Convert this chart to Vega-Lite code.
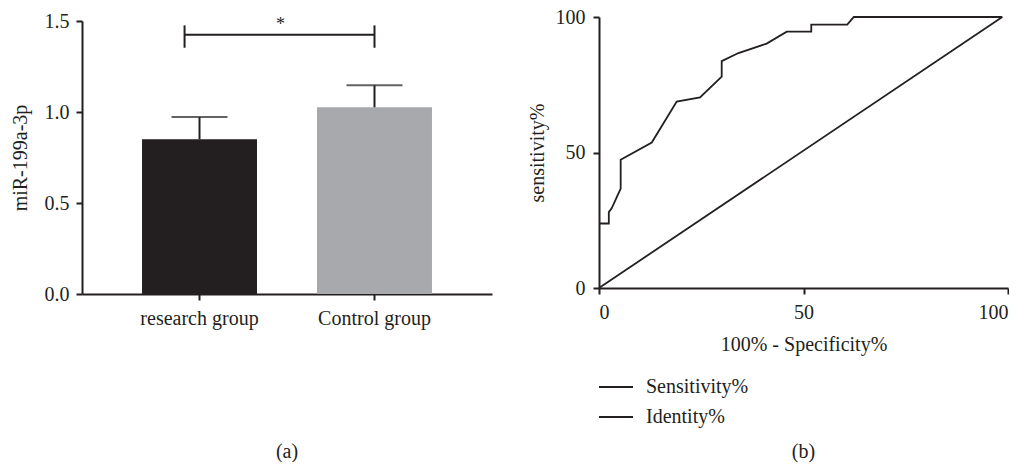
{
  "$schema": "https://vega.github.io/schema/vega-lite/v6.json",
  "background": "white",
  "padding": {"left": 10, "top": 7, "right": 0, "bottom": 0},
  "spacing": 35,
  "resolve": {"scale": {"color": "independent"}, "legend": {"color": "independent"}},
  "config": {
    "font": "Liberation Serif",
    "view": {"stroke": null},
    "axis": {
      "domainColor": "#231f20", "domainWidth": 2, "tickColor": "#231f20", "tickWidth": 2, "tickSize": 6,
      "labelFont": "Liberation Serif", "labelFontSize": 20, "labelColor": "#231f20",
      "titleFont": "Liberation Serif", "titleFontSize": 20, "titleColor": "#231f20", "titleFontWeight": "normal",
      "grid": false
    },
    "legend": {"labelFont": "Liberation Serif", "labelFontSize": 20, "labelColor": "#231f20"},
    "title": {"font": "Liberation Serif", "fontSize": 20, "fontWeight": "normal", "color": "#231f20"}
  },
  "datasets": {
    "bars": [
      {"group": "research group", "mean": 0.85, "upper": 0.972},
      {"group": "Control group", "mean": 1.026, "upper": 1.147}
    ],
    "sig": [
      {"from": "research group", "to": "Control group", "y": 1.425, "lo": 1.353, "hi": 1.476, "star_y": 1.45, "label": "*"}
    ],
    "roc": [
      {"i": 0, "x": 0, "y": 23.8, "series": "Sensitivity%"},
      {"i": 1, "x": 2.4, "y": 23.8, "series": "Sensitivity%"},
      {"i": 2, "x": 2.4, "y": 28.0, "series": "Sensitivity%"},
      {"i": 3, "x": 3.1, "y": 29.4, "series": "Sensitivity%"},
      {"i": 4, "x": 5.3, "y": 36.7, "series": "Sensitivity%"},
      {"i": 5, "x": 5.3, "y": 47.3, "series": "Sensitivity%"},
      {"i": 6, "x": 12.9, "y": 53.7, "series": "Sensitivity%"},
      {"i": 7, "x": 19.0, "y": 68.8, "series": "Sensitivity%"},
      {"i": 8, "x": 24.7, "y": 70.3, "series": "Sensitivity%"},
      {"i": 9, "x": 30.0, "y": 78.0, "series": "Sensitivity%"},
      {"i": 10, "x": 30.0, "y": 83.7, "series": "Sensitivity%"},
      {"i": 11, "x": 34.1, "y": 86.7, "series": "Sensitivity%"},
      {"i": 12, "x": 41.0, "y": 90.2, "series": "Sensitivity%"},
      {"i": 13, "x": 45.9, "y": 94.6, "series": "Sensitivity%"},
      {"i": 14, "x": 51.9, "y": 94.6, "series": "Sensitivity%"},
      {"i": 15, "x": 51.9, "y": 97.2, "series": "Sensitivity%"},
      {"i": 16, "x": 60.7, "y": 97.2, "series": "Sensitivity%"},
      {"i": 17, "x": 62.3, "y": 100, "series": "Sensitivity%"},
      {"i": 18, "x": 98.6, "y": 100, "series": "Sensitivity%"},
      {"i": 0, "x": 0, "y": 0, "series": "Identity%"},
      {"i": 1, "x": 98.6, "y": 100, "series": "Identity%"}
    ]
  },
  "hconcat": [
    {
      "width": 410,
      "height": 277,
      "title": {"text": "(a)", "orient": "bottom", "offset": 114},
      "layer": [
        {
          "data": {"name": "bars"},
          "mark": {"type": "bar"},
          "encoding": {
            "x": {"field": "group", "type": "nominal",
                  "scale": {"domain": ["research group", "Control group"], "padding": 0.343},
                  "axis": {"title": null, "labelAngle": 0, "labelPadding": 8}},
            "y": {"field": "mean", "type": "quantitative",
                  "scale": {"domain": [0, 1.5], "range": [277, 4], "nice": false},
                  "axis": {"title": "miR-199a-3p", "values": [0, 0.5, 1.0, 1.5], "format": ".1f", "labelPadding": 7, "titlePadding": 14}},
            "color": {"field": "group", "type": "nominal",
                      "scale": {"domain": ["research group", "Control group"], "range": ["#231f20", "#a7a9ac"]},
                      "legend": null}
          }
        },
        {
          "data": {"name": "bars"},
          "mark": {"type": "rule", "color": "#231f20", "strokeWidth": 2},
          "encoding": {
            "x": {"field": "group", "type": "nominal"},
            "y": {"field": "mean", "type": "quantitative"},
            "y2": {"field": "upper"}
          }
        },
        {
          "data": {"name": "bars"},
          "mark": {"type": "tick", "orient": "horizontal", "color": "#231f20", "size": 56, "thickness": 2},
          "encoding": {
            "x": {"field": "group", "type": "nominal"},
            "y": {"field": "upper", "type": "quantitative"}
          }
        },
        {
          "data": {"name": "sig"},
          "mark": {"type": "rule", "color": "#231f20", "strokeWidth": 2},
          "encoding": {
            "x": {"field": "from", "type": "nominal", "bandPosition": 0.37},
            "x2": {"field": "to"},
            "y": {"field": "y", "type": "quantitative"}
          }
        },
        {
          "data": {"name": "sig"},
          "mark": {"type": "rule", "color": "#231f20", "strokeWidth": 2},
          "encoding": {
            "x": {"field": "from", "type": "nominal", "bandPosition": 0.37},
            "y": {"field": "lo", "type": "quantitative"},
            "y2": {"field": "hi"}
          }
        },
        {
          "data": {"name": "sig"},
          "mark": {"type": "rule", "color": "#231f20", "strokeWidth": 2},
          "encoding": {
            "x": {"field": "to", "type": "nominal"},
            "y": {"field": "lo", "type": "quantitative"},
            "y2": {"field": "hi"}
          }
        },
        {
          "data": {"name": "sig"},
          "mark": {"type": "text", "color": "#231f20", "fontSize": 18, "baseline": "alphabetic", "dx": 81},
          "encoding": {
            "x": {"field": "from", "type": "nominal"},
            "y": {"field": "star_y", "type": "quantitative"},
            "text": {"field": "label"}
          }
        }
      ]
    },
    {
      "width": 409,
      "height": 271,
      "title": {"text": "(b)", "orient": "bottom", "offset": 15},
      "data": {"name": "roc"},
      "mark": {"type": "line", "strokeWidth": 1.8},
      "encoding": {
        "x": {"field": "x", "type": "quantitative",
              "scale": {"domain": [0, 100], "nice": false},
              "axis": {"title": "100% - Specificity%", "values": [0, 50, 100], "labelPadding": 8, "titlePadding": 12}},
        "y": {"field": "y", "type": "quantitative",
              "scale": {"domain": [0, 100], "nice": false},
              "axis": {"title": "sensitivity%", "values": [0, 50, 100], "labelPadding": 8, "titlePadding": 8}},
        "order": {"field": "i", "type": "quantitative"},
        "color": {"field": "series", "type": "nominal",
                  "scale": {"domain": ["Sensitivity%", "Identity%"], "range": ["#231f20", "#231f20"]},
                  "legend": {"title": null, "orient": "none", "legendX": -1, "legendY": 352, "direction": "vertical",
                             "symbolType": "stroke", "symbolSize": 1156, "symbolStrokeWidth": 1.8,
                             "labelOffset": 12, "rowPadding": 2}}
      }
    }
  ]
}
